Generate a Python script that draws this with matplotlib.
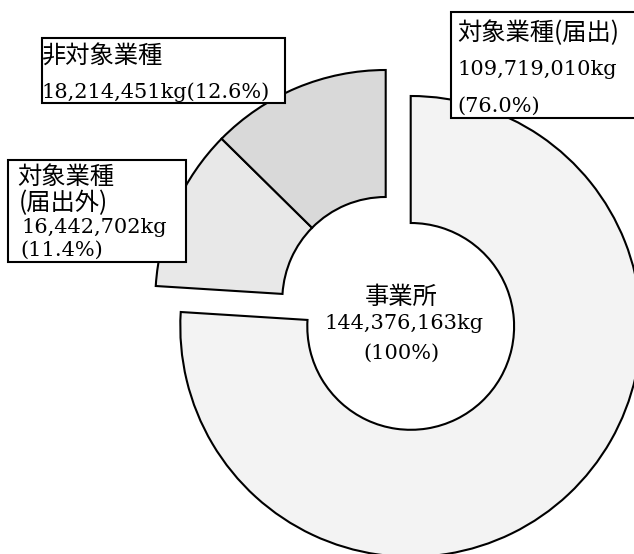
import matplotlib
matplotlib.use('Agg')
import matplotlib.pyplot as plt
from matplotlib.patches import Rectangle

# データ（kg）
categories = ['対象業種(届出)', '対象業種(届出外)', '非対象業種']
amounts = [109719010, 16442702, 18214451]
total_label = '事業所'
total = sum(amounts)
colors = ['#f3f3f3', '#e8e8e8', '#d9d9d9']

H = 554
serif = ['DejaVu Serif', 'Noto Sans CJK JP']
gothic = ['Noto Sans CJK JP', 'DejaVu Serif']

fig = plt.figure(figsize=(6.34, 5.54), dpi=100)
ax = fig.add_axes([0, 0, 1, 1])

# 円グラフ（ピクセル座標で配置）
cx, cy = 410.7, H - 326.4
R, ring = 230.4, 127
wedges, _ = ax.pie(amounts, startangle=90, counterclock=False, radius=R,
                   center=(cx, cy), colors=colors,
                   wedgeprops=dict(width=ring, edgecolor='black', linewidth=1.5))
# 届出外・非対象業種をまとめて左上にずらす
shift = (-25, 26)
for w in wedges[1:]:
    w.set_center((cx + shift[0], cy + shift[1]))

ax.set_xlim(0, 634)
ax.set_ylim(0, H)
ax.set_aspect('equal')
ax.axis('off')


def box(x0, y0, x1, y1):
    ax.add_patch(Rectangle((x0, H - y1), x1 - x0, y1 - y0, facecolor='white',
                           edgecolor='black', linewidth=1.5, zorder=3))


def put(x, y, s, fam, size, ha='left'):
    ax.text(x, H - y, s, family=fam, fontsize=size, ha=ha, va='baseline', zorder=4)


pct = [a / total * 100 for a in amounts]
kg = ['{:,}kg'.format(a) for a in amounts]

# 対象業種(届出)
box(450.7, 12.3, 645, 118)
put(457, 40, categories[0], gothic, 17.5)
put(457, 75, kg[0], serif, 15)
put(457, 111.5, '({:.1f}%)'.format(pct[0]), serif, 15)

# 非対象業種
box(42, 38.3, 285, 102.7)
put(42, 64, categories[2], gothic, 17.5)
put(41, 98.3, kg[2] + '({:.1f}%)'.format(pct[2]), serif, 15)

# 対象業種(届出外)
box(8.3, 159.7, 185.7, 262.3)
put(17, 184, '対象業種', gothic, 17.5)
put(19, 210, '(届出外)', gothic, 17.5)
put(21, 233.3, kg[1], serif, 15)
put(20, 256, '({:.1f}%)'.format(pct[1]), serif, 15)

# 中央
put(401.5, 304, total_label, gothic, 17.5, ha='center')
put(404, 329.3, '{:,}kg'.format(total), serif, 15, ha='center')
put(401, 358.3, '(100%)', serif, 15, ha='center')

fig.savefig('out.png', dpi=100)
